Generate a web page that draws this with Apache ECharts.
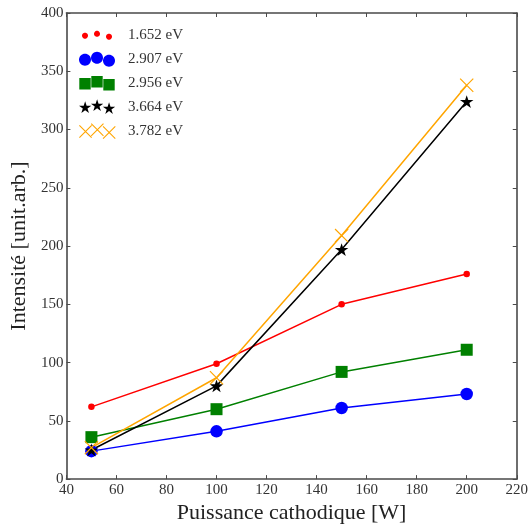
<!DOCTYPE html>
<html>
<head>
<meta charset="utf-8">
<script src="https://cdn.jsdelivr.net/npm/echarts@6/dist/echarts.min.js"></script>
<style>html,body{margin:0;padding:0;background:#fff}#c{width:531px;height:529px}</style>
</head>
<body>
<div id="c"></div>
<script>
// ---- data ----
const power = [50, 100, 150, 200];
const s1652 = [62, 99, 150, 176];
const s2907 = [24, 41, 61, 73];
const s2956 = [36, 60, 92, 111];
const s3664 = [25, 80, 197, 324];
const s3782 = [27, 87, 209, 338];
const seriesNames = ['1.652 eV', '2.907 eV', '2.956 eV', '3.664 eV', '3.782 eV'];
const xTicks = {min: 40, max: 220, interval: 20};
const yTicks = {min: 0, max: 400, interval: 50};

// ---- shape path helpers ----
function f(n){return (Math.round(n*100)/100).toString();}
function circle(cx, cy, r){
  let p=''; const N=32;
  for(let i=0;i<N;i++){const a=2*Math.PI*i/N; p+=(i?'L':'M')+f(cx+r*Math.cos(a))+','+f(cy+r*Math.sin(a));}
  return p+'Z';
}
function square(cx, cy, h){
  return 'M'+f(cx-h)+','+f(cy-h)+'L'+f(cx+h)+','+f(cy-h)+'L'+f(cx+h)+','+f(cy+h)+'L'+f(cx-h)+','+f(cy+h)+'Z';
}
function star(cx, cy, R){
  let p=''; const r=R*0.382;
  for(let i=0;i<10;i++){const a=-Math.PI/2+Math.PI*i/5; const rr=i%2?r:R; p+=(i?'L':'M')+f(cx+rr*Math.cos(a))+','+f(cy+rr*Math.sin(a));}
  return p+'Z';
}
function cross(cx, cy, h, t){
  const a=t/Math.SQRT2;
  const P=(pts)=>pts.map((q,i)=>(i?'L':'M')+f(cx+q[0])+','+f(cy+q[1])).join('')+'Z';
  return P([[-h+a,-h-a],[h+a,h-a],[h-a,h+a],[-h-a,-h+a]]) +
         P([[h+a,-h+a],[-h+a,h+a],[-h-a,h-a],[h-a,-h-a]]);
}
// legend icons: three markers in a 44x20 pixel frame
const LW=44, LH=20;
const lx=[6,18,30], ly=[0.7,-1.2,1.7];
function triple(fn){
  let p='M0,0M'+LW+','+LH;
  for(let i=0;i<3;i++) p+=fn(lx[i], LH/2+ly[i]);
  return 'path://'+p;
}
const legendIcons = [
  triple((x,y)=>circle(x,y,3)),
  triple((x,y)=>circle(x,y,6)),
  triple((x,y)=>square(x,y,5.7)),
  triple((x,y)=>star(x,y,6.5)),
  triple((x,y)=>cross(x,y,6.2,0.55))
];
const symbols = [
  'circle',
  'circle',
  'path://'+square(50,50,50),
  'path://'+star(50,50,50),
  'path://'+cross(50,50,50,4.5)
];
const sizes=[6.5,12.5,12,13.5,14];
const colors=['#ff0000','#0000ff','#008000','#000000','#ffa500'];
const values=[s1652,s2907,s2956,s3664,s3782];
const rowY=[35,59,83,107,131];

const font="'Liberation Serif','DejaVu Serif',serif";
const axisCol='#4a4a4a';

const series = values.map((v,i)=>({
  name: seriesNames[i],
  type:'line',
  xAxisIndex:0, yAxisIndex:0,
  data: power.map((x,j)=>[x,v[j]]),
  symbol: symbols[i],
  symbolSize: sizes[i],
  symbolKeepAspect:true,
  showAllSymbol:true,
  lineStyle:{color:colors[i], width:1.5},
  itemStyle:{color:colors[i]},
  emphasis:{disabled:true},
  animation:false
}));

const legends = seriesNames.map((n,i)=>({
  data:[{name:n, icon:legendIcons[i]}],
  left:79, top:rowY[i]-LH/2,
  padding:0,
  itemWidth:LW, itemHeight:LH,
  itemGap:0,
  selectedMode:false,
  textStyle:{fontFamily:font, fontSize:15, color:'#333'}
}));

const baseAxis = {
  axisLine:{show:true, onZero:false, lineStyle:{color:axisCol, width:1.6}},
  axisTick:{show:true, inside:true, length:4, lineStyle:{color:axisCol, width:1}},
  splitLine:{show:false}
};

const option = {
  animation:false,
  backgroundColor:'#fff',
  grid:{left:65, right:12, top:13, bottom:47, containLabel:false},
  legend: legends,
  xAxis:[
    Object.assign({}, baseAxis, {
      type:'value', position:'bottom', min:xTicks.min, max:xTicks.max, interval:xTicks.interval,
      axisLabel:{fontFamily:font, fontSize:15, color:'#333', margin:3, showMinLabel:true, showMaxLabel:true},
      name:'Puissance cathodique [W]', nameLocation:'middle', nameGap:21,
      nameTextStyle:{fontFamily:font, fontSize:22, color:'#222'}
    }),
    Object.assign({}, baseAxis, {
      type:'value', position:'top', min:xTicks.min, max:xTicks.max, interval:xTicks.interval,
      axisLabel:{show:false}
    })
  ],
  yAxis:[
    Object.assign({}, baseAxis, {
      type:'value', position:'left', min:yTicks.min, max:yTicks.max, interval:yTicks.interval,
      axisLabel:{fontFamily:font, fontSize:15, color:'#333', margin:3, showMinLabel:true, showMaxLabel:true},
      name:'Intensité [unit.arb.]', nameLocation:'middle', nameGap:32, nameRotate:90,
      nameTextStyle:{fontFamily:font, fontSize:22, color:'#222'}
    }),
    Object.assign({}, baseAxis, {
      type:'value', position:'right', min:yTicks.min, max:yTicks.max, interval:yTicks.interval,
      axisLabel:{show:false}
    })
  ],
  series: series
};

const chart = echarts.init(document.getElementById('c'), null, {renderer:'canvas'});
chart.setOption(option);
</script>
</body>
</html>
